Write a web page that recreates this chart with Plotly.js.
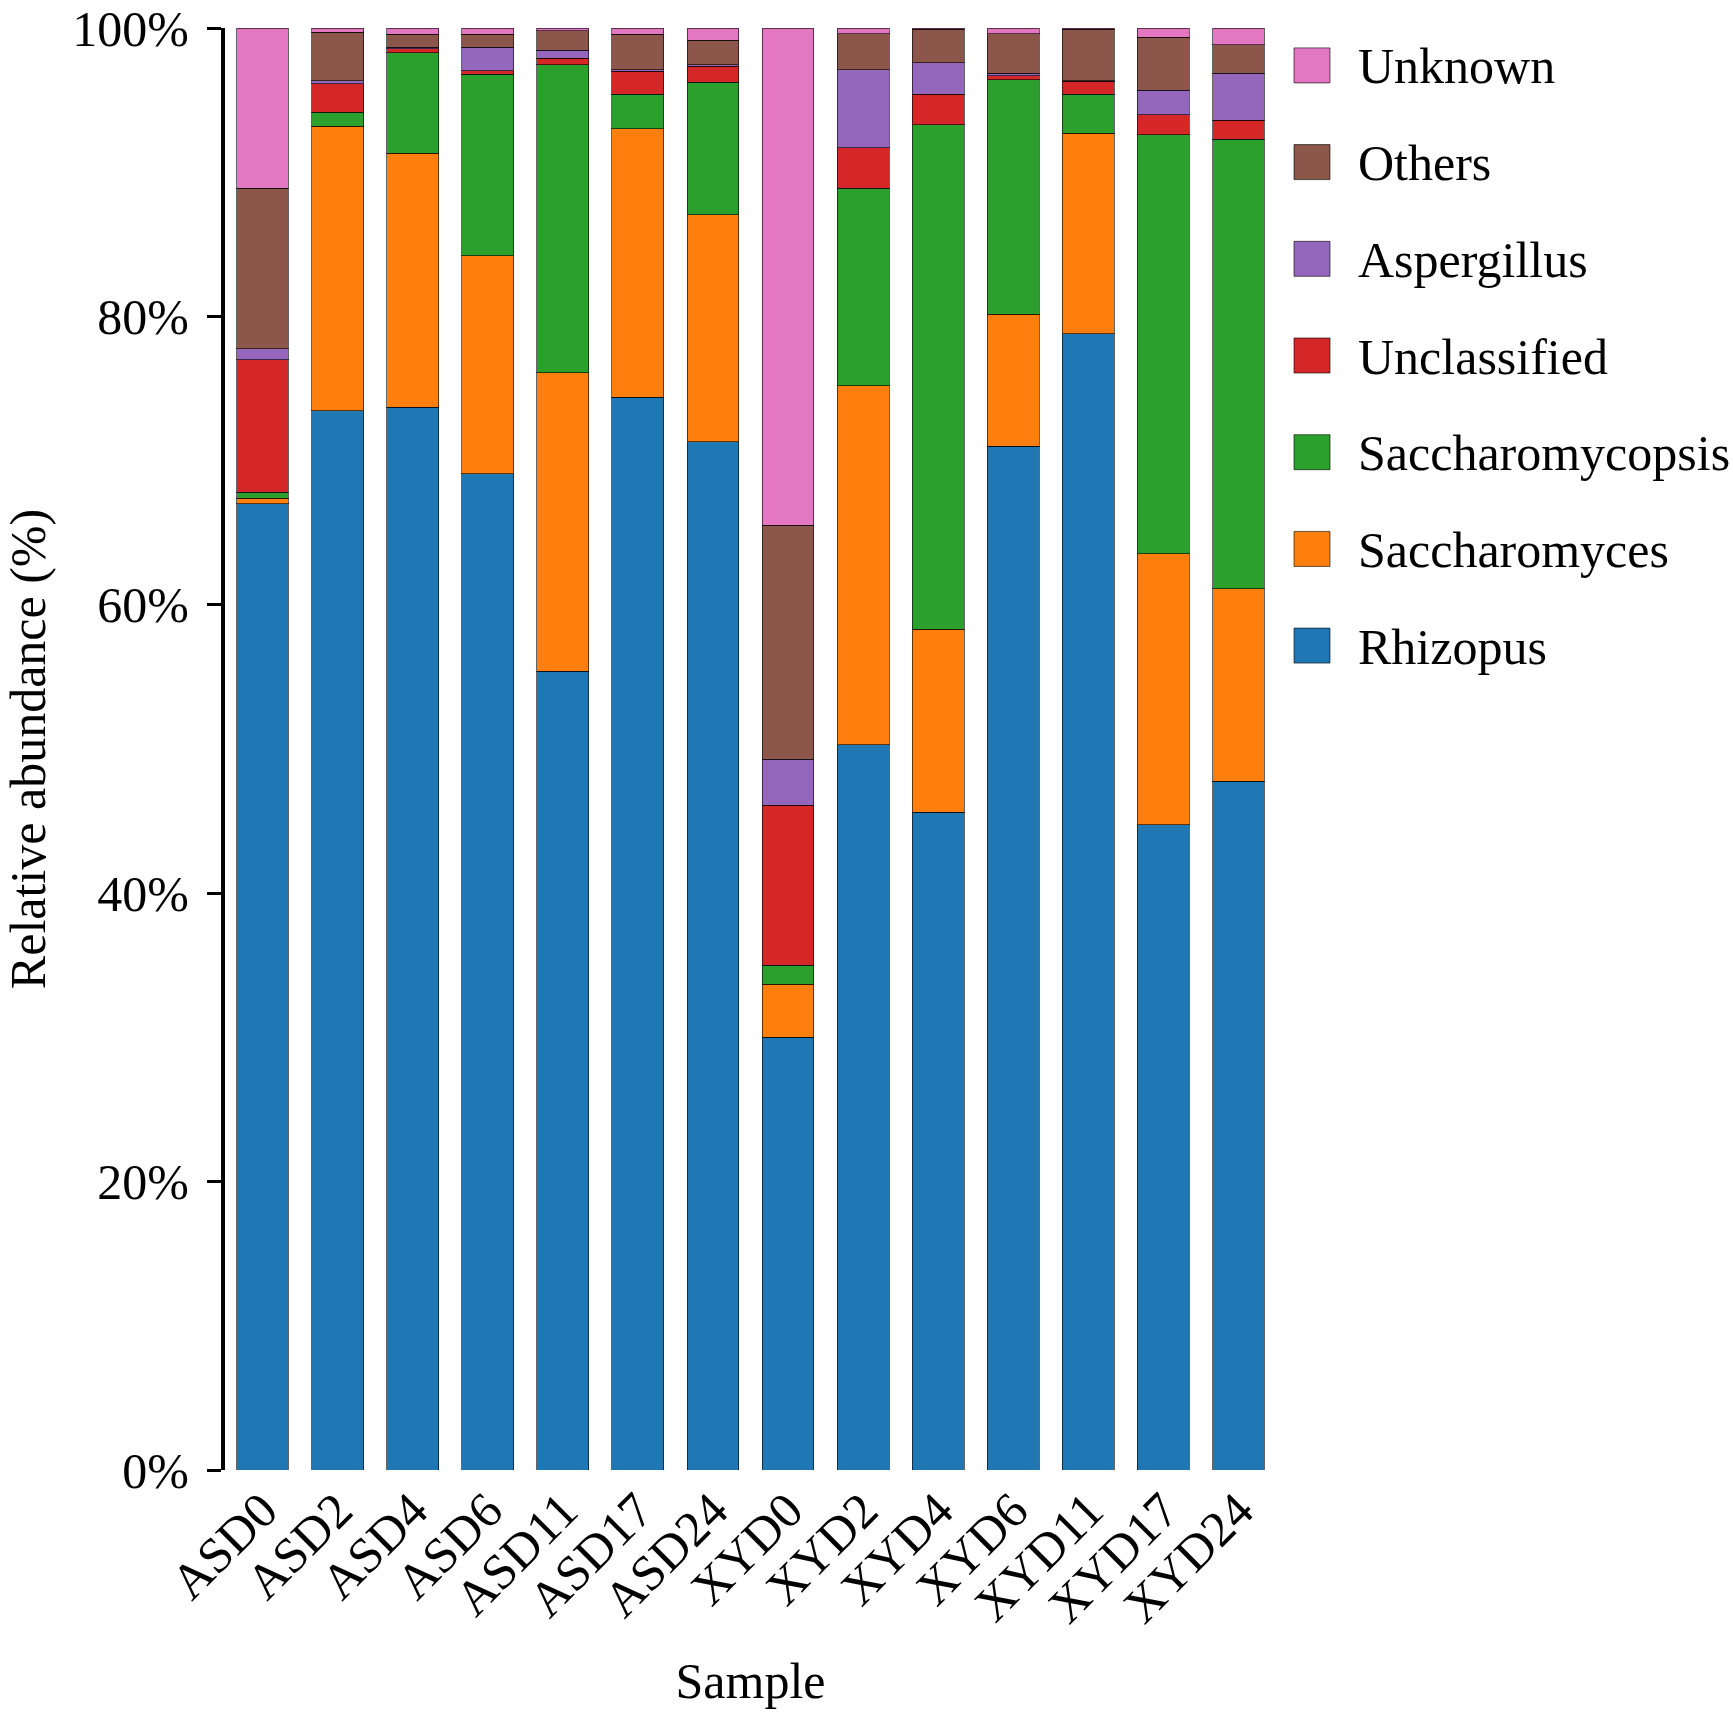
<!DOCTYPE html>
<html>
<head>
<meta charset="utf-8">
<script src="https://cdn.plot.ly/plotly-3.0.1.min.js"></script>
<style>body{margin:0;background:#fff}#chart{width:1733px;height:1717px}</style>
</head>
<body>
<div id="chart"></div>
<script>
// samples on the x axis
samples = ['ASD0','ASD2','ASD4','ASD6','ASD11','ASD17','ASD24','XYD0','XYD2','XYD4','XYD6','XYD11','XYD17','XYD24'];

// relative abundance (%) per genus, bottom of the stack first
rhizopus         = [67.0, 73.45, 73.7, 69.1, 55.4, 74.4, 71.3, 30.0, 50.3, 45.6, 71.0, 78.8, 44.75, 47.75];
saccharomyces    = [0.4, 19.75, 17.6, 15.1, 20.7, 18.6, 15.75, 3.7, 24.9, 12.7, 9.15, 13.9, 18.8, 13.35];
saccharomycopsis = [0.4, 0.95, 7.0, 12.6, 21.35, 2.4, 9.2, 1.3, 13.7, 35.0, 16.25, 2.7, 29.05, 31.2];
unclassified     = [9.2, 1.99, 0.25, 0.25, 0.45, 1.6, 1.1, 11.1, 2.8, 2.1, 0.3, 0.9, 1.4, 1.3];
aspergillus      = [0.75, 0.21, 0.1, 1.6, 0.55, 0.1, 0.1, 3.2, 5.4, 2.2, 0.15, 0.05, 1.7, 3.25];
others           = [11.15, 3.35, 0.9, 0.9, 1.35, 2.45, 1.7, 16.2, 2.5, 2.3, 2.75, 3.55, 3.65, 2.0];
unknown          = [11.1, 0.3, 0.45, 0.45, 0.2, 0.45, 0.85, 34.5, 0.4, 0.1, 0.4, 0.1, 0.65, 1.15];

names  = ['Rhizopus','Saccharomyces','Saccharomycopsis','Unclassified','Aspergillus','Others','Unknown'];
series = [rhizopus, saccharomyces, saccharomycopsis, unclassified, aspergillus, others, unknown];
colors = ['#1f77b4','#ff7f0e','#2ca02c','#d62728','#9467bd','#8c564b','#e377c2'];

yticks      = [0, 20, 40, 60, 80, 100];
ytickLabels = ['0%', '20%', '40%', '60%', '80%', '100%'];

font = 'Liberation Serif, Times New Roman, serif';
edge = 'rgba(0,0,0,0.6)';

var traces = series.map(function (v, i) {
  return {type: 'bar', name: names[i], x: samples, y: v,
    marker: {color: colors[i], line: {color: edge, width: 1}}, showlegend: false};
});

// plot box in pixels
var L = 225, R = 1276, T = 28, B = 1470;
function px(x) { return (x - L) / (R - L); }
function py(y) { return (B - y) / (B - T); }

// hand-made legend so the swatches can be as big as in the figure
var shapes = [], annos = [];
for (var k = 0; k < names.length; k++) {
  var i = names.length - 1 - k; // top entry is the top of the stack
  var cy = 65.4 + k * 96.7;
  shapes.push({type: 'rect', xref: 'paper', yref: 'paper',
    x0: px(1294), x1: px(1330), y0: py(cy + 17.5), y1: py(cy - 17.5),
    fillcolor: colors[i], line: {color: edge, width: 1}});
  annos.push({xref: 'paper', yref: 'paper', x: px(1356), y: py(cy + 1),
    xanchor: 'left', yanchor: 'middle', showarrow: false, text: names[i],
    font: {family: font, size: 50, color: '#000'}});
}

var layout = {
  width: 1733, height: 1717,
  margin: {l: L, r: 1733 - R, t: T, b: 1717 - B},
  barmode: 'stack', bargap: 0.31,
  paper_bgcolor: '#fff', plot_bgcolor: '#fff',
  font: {family: font, size: 50, color: '#000'},
  xaxis: {type: 'category', range: [-0.5, 13.5], tickangle: -45,
    showline: false, ticks: '', showgrid: false, zeroline: false,
    tickfont: {family: font, size: 50, color: '#000'},
    title: {text: 'Sample', font: {family: font, size: 50, color: '#000'}, standoff: 30}},
  yaxis: {range: [0, 100], tickmode: 'array', tickvals: yticks, ticktext: ytickLabels,
    showline: true, linewidth: 4, linecolor: '#000',
    ticks: 'outside', ticklen: 14, tickwidth: 3, tickcolor: '#000',
    ticklabelstandoff: 8, showgrid: false, zeroline: false,
    tickfont: {family: font, size: 50, color: '#000'},
    title: {text: 'Relative abundance (%)', font: {family: font, size: 50, color: '#000'}, standoff: 14}},
  shapes: shapes, annotations: annos
};

Plotly.newPlot('chart', traces, layout, {staticPlot: true});
</script>
</body>
</html>
